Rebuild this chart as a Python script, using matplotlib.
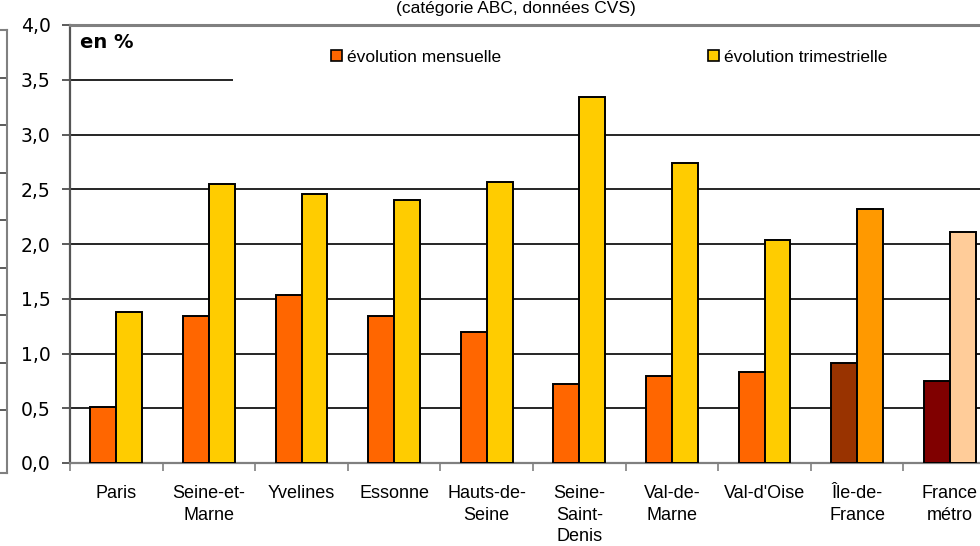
import numpy as np
import matplotlib
matplotlib.use("Agg")
import matplotlib.pyplot as plt
from matplotlib.patches import Rectangle

# data
categories = ["Paris", "Seine-et-\nMarne", "Yvelines", "Essonne", "Hauts-de-\nSeine",
              "Seine-\nSaint-\nDenis", "Val-de-\nMarne", "Val-d'Oise", "Île-de-\nFrance",
              "France\nmétro"]
mensuelle = [0.51, 1.34, 1.53, 1.34, 1.20, 0.72, 0.79, 0.83, 0.91, 0.75]
trimestrielle = [1.38, 2.55, 2.46, 2.40, 2.57, 3.34, 2.74, 2.04, 2.32, 2.11]
col_mens = ["#FF6600"] * 8 + ["#993300", "#800000"]
col_trim = ["#FFCC00"] * 8 + ["#FF9900", "#FFCC99"]
yticks = [0.0, 0.5, 1.0, 1.5, 2.0, 2.5, 3.0, 3.5, 4.0]

W, H = 980, 546
fig = plt.figure(figsize=(W / 100, H / 100), dpi=100)

# bit of the neighbouring chart frame on the left
ax0 = fig.add_axes([(7 - 200) / W, (H - 473) / H, 200 / W, 443 / H])
ax0.set_xlim(0, 1)
ax0.set_ylim(0, 443)
ax0.spines["left"].set_visible(False)
for s in ["right", "top", "bottom"]:
    ax0.spines[s].set_color("#808080")
    ax0.spines[s].set_linewidth(1.5)
ax0.set_xticks([])
ax0.yaxis.tick_right()
ax0.set_yticks(63 + 47.5 * np.arange(8))
ax0.tick_params(axis="y", direction="in", length=5, width=1.2, colors="#404040", labelright=False)
ax0.patch.set_visible(False)

# main chart, the right part runs past the picture edge
ax = fig.add_axes([70 / W, 83 / H, 926 / W, 438 / H])
x = np.arange(len(categories))
bw = 0.28
ax.bar(x - bw / 2, mensuelle, bw, color=col_mens, edgecolor="black", linewidth=1.4, zorder=3)
ax.bar(x + bw / 2, trimestrielle, bw, color=col_trim, edgecolor="black", linewidth=1.4, zorder=3)

ax.set_xlim(-0.5, len(categories) - 0.5)
ax.set_ylim(0, 4.0)
for v in yticks[1:-1]:
    ax.axhline(v, color="black", linewidth=1.2, zorder=1)

ax.set_yticks(yticks)
ax.set_yticklabels([f"{v:.1f}".replace(".", ",") for v in yticks], fontsize=13.5,
                   family="DejaVu Sans")
ax.tick_params(axis="y", direction="out", length=6, width=1.2, colors="#404040",
               pad=8, labelcolor="black")

ax.set_xticks(x)
ax.set_xticklabels(categories, fontsize=13, family="Liberation Sans", linespacing=1.35)
ax.set_xticks(np.arange(-0.5, len(categories)), minor=True)
ax.tick_params(axis="x", which="major", length=0, pad=16)
ax.tick_params(axis="x", which="minor", direction="out", length=5.5, width=1.2, colors="#808080")

ax.spines["top"].set_color("#808080")
ax.spines["top"].set_linewidth(2.2)
ax.spines["left"].set_color("#555555")
ax.spines["left"].set_linewidth(1.6)
ax.spines["bottom"].set_color("#808080")
ax.spines["bottom"].set_linewidth(1.6)
ax.spines["right"].set_visible(False)

# white legend area hiding the 3,5 gridline
ax.add_patch(Rectangle((1.26, 3.42), 9, 0.55, facecolor="white", edgecolor="none", zorder=2))

fig.text(80 / W, (H - 42) / H, "en %", fontsize=14, fontweight="bold",
         family="DejaVu Sans", va="center", ha="left")

fig.text(516 / W, (H - 9) / H, "(catégorie ABC, données CVS)", fontsize=12.5,
         family="Liberation Sans", ha="center", va="center")

h1 = Rectangle((0, 0), 1, 1, facecolor="#FF6600", edgecolor="black", linewidth=1.2)
h2 = Rectangle((0, 0), 1, 1, facecolor="#FFCC00", edgecolor="black", linewidth=1.2)
ax.legend([h1, h2], ["évolution mensuelle", "évolution trimestrielle"], ncol=2,
          loc="center left", bbox_to_anchor=(322 / W, (H - 57) / H),
          bbox_transform=fig.transFigure, frameon=False, borderpad=0,
          handlelength=0.65, handleheight=0.65, handletextpad=0.3, columnspacing=11.9,
          prop={"family": "Liberation Sans", "size": 12.5})

fig.savefig("out.png", dpi=100)
